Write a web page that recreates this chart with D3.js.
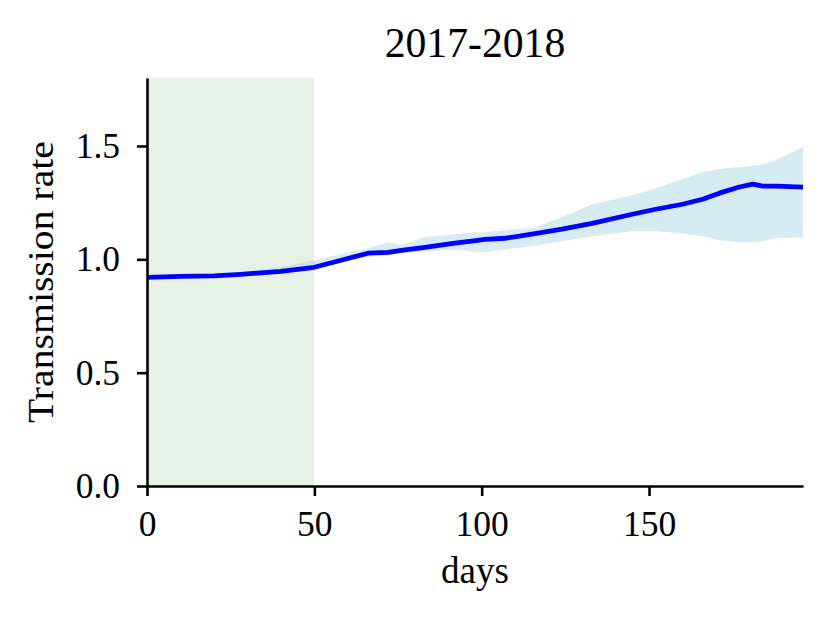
<!DOCTYPE html>
<html>
<head>
<meta charset="utf-8">
<script src="https://cdn.jsdelivr.net/npm/d3@7"></script>
<style>
  body { margin: 0; background: #fff; }
  svg { display: block; }
  text { font-family: "Liberation Serif", "Times New Roman", serif; fill: #000; }
</style>
</head>
<body>
<script>
// ---- data ----
const title = "2017-2018";
const xLabel = "days";
const yLabel = "Transmission rate";
const days  = [0, 10, 20, 28, 40, 50, 58, 66, 72, 76, 83, 92, 97, 101, 107, 115, 124, 133, 145, 152, 160, 166, 171, 177, 181, 184, 188, 196];
const meanR = [0.920, 0.925, 0.927, 0.934, 0.947, 0.965, 0.996, 1.027, 1.031, 1.040, 1.053, 1.071, 1.080, 1.088, 1.093, 1.111, 1.133, 1.159, 1.199, 1.221, 1.243, 1.265, 1.292, 1.319, 1.332, 1.323, 1.323, 1.319];
const lowR  = [0.915, 0.920, 0.922, 0.930, 0.940, 0.960, 0.987, 1.009, 1.018, 1.027, 1.035, 1.044, 1.035, 1.031, 1.044, 1.058, 1.080, 1.102, 1.124, 1.124, 1.115, 1.102, 1.084, 1.075, 1.075, 1.080, 1.093, 1.097];
const highR = [0.925, 0.930, 0.932, 0.942, 0.965, 0.996, 1.022, 1.049, 1.075, 1.062, 1.097, 1.111, 1.117, 1.119, 1.128, 1.137, 1.186, 1.243, 1.283, 1.314, 1.354, 1.385, 1.398, 1.407, 1.412, 1.420, 1.438, 1.496];
const shadeStart = 0, shadeEnd = 50;
const xTicks = [0, 50, 100, 150];
const yTicks = [0.0, 0.5, 1.0, 1.5];
const xDomain = [0, 196];
const yDomain = [0, 1.8];

// ---- layout ----
const W = 829, H = 618;
const m = { left: 147, right: 829 - 803, top: 78, bottom: 618 - 486 };
const svg = d3.select("body").append("svg").attr("width", W).attr("height", H);

const x = d3.scaleLinear().domain(xDomain).range([m.left, W - m.right]);
const y = d3.scaleLinear().domain(yDomain).range([H - m.bottom, m.top]);

const rows = days.map((d, i) => ({ d, m: meanR[i], lo: lowR[i], hi: highR[i] }));

// shaded initial period
svg.append("rect")
  .attr("x", x(shadeStart)).attr("y", y(yDomain[1]))
  .attr("width", x(shadeEnd) - x(shadeStart))
  .attr("height", y(yDomain[0]) - y(yDomain[1]))
  .attr("fill", "green").attr("fill-opacity", 0.1);

// uncertainty band
svg.append("path").datum(rows)
  .attr("d", d3.area().x(r => x(r.d)).y0(r => y(r.lo)).y1(r => y(r.hi)))
  .attr("fill", "lightblue").attr("fill-opacity", 0.5);

// mean line
svg.append("path").datum(rows)
  .attr("d", d3.line().x(r => x(r.d)).y(r => y(r.m)))
  .attr("fill", "none").attr("stroke", "#0000ff").attr("stroke-width", 4.8)
  .attr("stroke-linejoin", "round");

// axes
const fs = 35.5;
const xAxis = svg.append("g").attr("transform", `translate(0,${y(0)})`)
  .call(d3.axisBottom(x).tickValues(xTicks).tickFormat(d3.format("d")).tickSizeInner(10).tickSizeOuter(0).tickPadding(15));
const yAxis = svg.append("g").attr("transform", `translate(${x(0)},0)`)
  .call(d3.axisLeft(y).tickValues(yTicks).tickFormat(d3.format(".1f")).tickSizeInner(10).tickSizeOuter(0).tickPadding(17));
[xAxis, yAxis].forEach(g => {
  g.select(".domain").attr("stroke", "#000").attr("stroke-width", 2.6);
  g.selectAll(".tick line").attr("stroke", "#000").attr("stroke-width", 2.6);
  g.selectAll(".tick text").style("font-family", '"Liberation Serif", serif').attr("font-size", fs).attr("fill", "#000");
});
xAxis.selectAll(".tick text").attr("dy", "0.71em");
yAxis.selectAll(".tick text").attr("dy", "0.32em");

// title and labels
svg.append("text").attr("x", (x(xDomain[0]) + x(xDomain[1])) / 2).attr("y", 57)
  .attr("text-anchor", "middle").attr("font-size", 41.7).text(title);
svg.append("text").attr("x", (x(xDomain[0]) + x(xDomain[1])) / 2).attr("y", 583)
  .attr("text-anchor", "middle").attr("font-size", 37).text(xLabel);
svg.append("text")
  .attr("transform", `translate(53,${(y(yDomain[0]) + y(yDomain[1])) / 2}) rotate(-90)`)
  .attr("text-anchor", "middle").attr("font-size", 36)
  .attr("textLength", 282).attr("lengthAdjust", "spacingAndGlyphs").text(yLabel);
</script>
</body>
</html>
